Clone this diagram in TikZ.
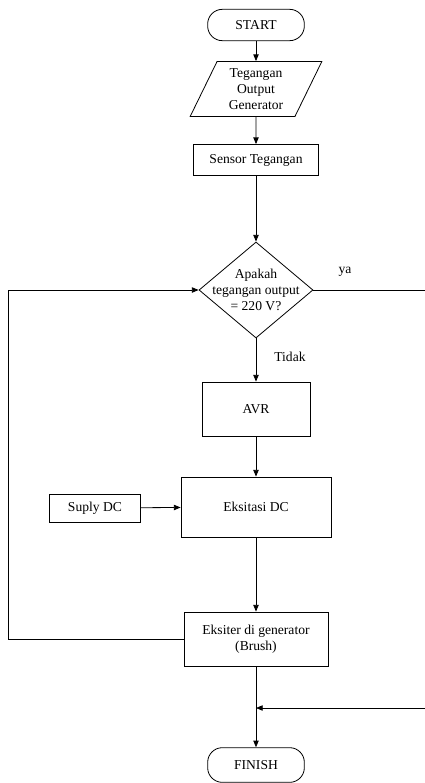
\documentclass[tikz,border=0pt]{standalone}
\usepackage{fontspec}
\setmainfont{Liberation Serif}
\usetikzlibrary{arrows.meta,positioning,shapes.geometric}

\begin{document}
\begin{tikzpicture}[
    x=0.75pt, y=-0.75pt,
    font=\fontsize{10.2}{12.2}\selectfont,
    line width=0.6pt,
    terminal/.style={
      rectangle,
      draw,
      rounded corners=11pt,
      minimum width=72.5pt,
      minimum height=23.5pt
    },
    io/.style={
      trapezium,
      draw,
      trapezium left angle=66,
      trapezium right angle=114,
      trapezium stretches=true,
      align=center,
      minimum width=99pt,
      minimum height=41.25pt,
      inner sep=1pt
    },
    block/.style={
      rectangle,
      draw,
      align=center
    },
    decision/.style={
      diamond,
      draw,
      minimum width=85.5pt,
      minimum height=72pt,
      inner sep=0pt
    },
    line/.style={draw, -{Triangle[length=5pt, width=4pt]}}
]
    \useasboundingbox (0,0) rectangle (425,783);

    % Nodes
    \node [terminal] (start) at (256,25) {START};
    \node [io] (tegangan) at (256,89) {Tegangan\\Output\\Generator};
    \node [block, minimum width=93.75pt, minimum height=23.25pt] (sensor) at (256,160) {Sensor Tegangan};
    \node [decision, label={[align=center]center:Apakah\\tegangan output\\= 220 V?}] (cek) at (256,290) {};
    \node [block, minimum width=81pt, minimum height=40.5pt] (avr) at (256,409) {AVR};
    \node [block, minimum width=112.5pt, minimum height=45pt] (eksitasi) at (256,507) {Eksitasi DC};
    \node [block, minimum width=68.25pt, minimum height=21pt] (suply) at (95,508) {Suply DC};
    \node [block, minimum width=108pt, minimum height=40.5pt] (eksiter) at (256,639) {Eksiter di generator\\(Brush)};
    \node [terminal, minimum height=26pt] (finish) at (256,765) {FINISH};

    \coordinate (kiri) at (8,290);
    \coordinate (kanan) at (425,290);
    \coordinate (kanan bawah) at (425,708);
    \coordinate (gabung) at (256,708);

    % Edges
    \path [line] (start) -- (tegangan);
    \path [line] (tegangan) -- (sensor);
    \path [line] (sensor) -- (cek);
    \path [line] (cek) -- (avr);
    \path [line] (avr) -- (eksitasi);
    \path [line] (suply) -- (eksitasi);
    \path [line] (eksitasi) -- (eksiter);
    \path [line] (eksiter.west) -| (kiri) -- (cek.west);
    \draw (cek.east) -- (kanan);
    \path [line] (eksiter) -- (finish);
    \path [line] (kanan bawah) -- (gabung);

    % Labels
    \node at (345,272) {ya};
    \node at (290,357) {Tidak};

\end{tikzpicture}
\end{document}
